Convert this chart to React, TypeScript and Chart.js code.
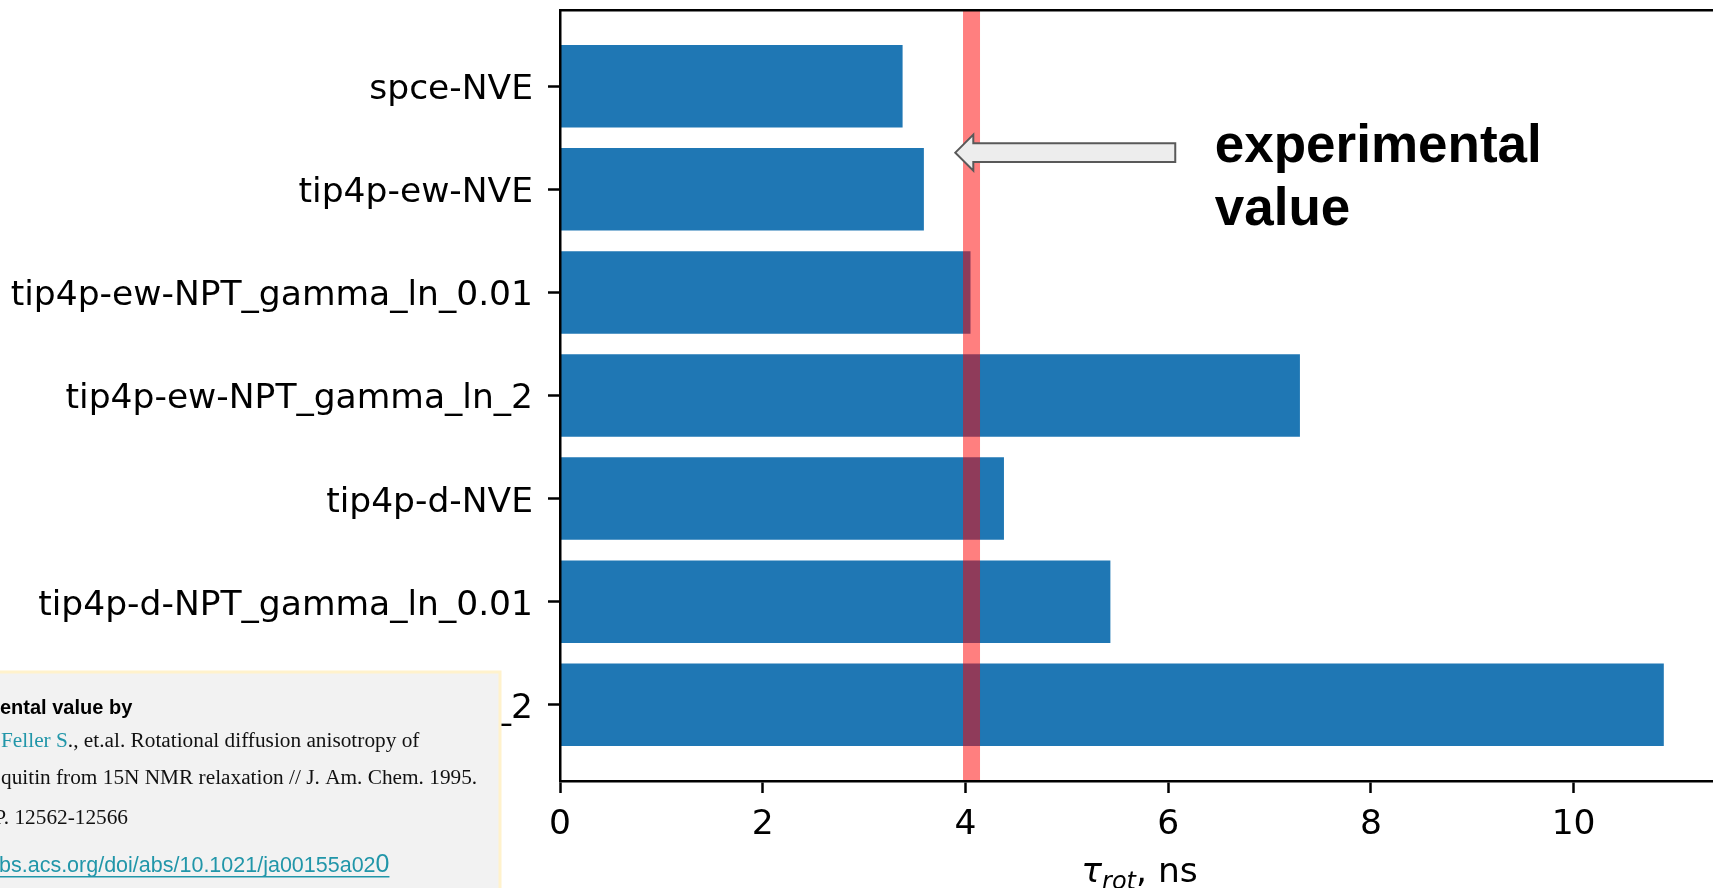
import React, { useEffect, useRef } from "react";
import { Chart, registerables } from "chart.js";

Chart.register(...registerables);

// Water models (one bar each) and their rotational correlation times, ns
const MODELS = [
  "spce-NVE",
  "tip4p-ew-NVE",
  "tip4p-ew-NPT_gamma_ln_0.01",
  "tip4p-ew-NPT_gamma_ln_2",
  "tip4p-d-NVE",
  "tip4p-d-NPT_gamma_ln_0.01",
  "tip4p-d-NPT_gamma_ln_2",
];
const TAU_ROT_NS = [3.38, 3.59, 4.05, 7.3, 4.38, 5.43, 10.89];

// Experimental rotational correlation time, ns
const EXPERIMENTAL_NS = 4.06;

const X_TICKS = [0, 2, 4, 6, 8, 10];

// Axis limits: 5% headroom after the longest bar, half a bar plus margin on y
const X_MAX = Math.max(...TAU_ROT_NS) * 1.05;
const Y_MIN = -0.74;
const Y_MAX = MODELS.length - 1 + 0.74;

// Citation block shown in the lower-left corner
const REF_HEADING = "ental value by";
const REF_AUTHOR = "Feller S";
const REF_LINE_2 = "., et.al. Rotational diffusion anisotropy of";
const REF_LINE_3 = "quitin from 15N NMR relaxation // J. Am. Chem. 1995.";
const REF_LINE_4 = "P. 12562-12566";
const REF_LINK = "bs.acs.org/doi/abs/10.1021/ja00155a02";
const REF_LINK_END = "0";

const ANNOTATION_LINES = ["experimental", "value"];

const TICK_FONT = { family: "'DejaVu Sans'", size: 34.5 };
const TEAL = "#2196a9";

const overlayPlugin = {
  id: "overlay",
  afterDraw(chart: any) {
    const { ctx, chartArea, scales } = chart;
    const xs = scales.x;
    const ys = scales.y;
    ctx.save();

    // x-axis title: tau_rot, ns
    const fTau = "italic 34.5px 'DejaVu Sans'";
    const fSub = "italic 24px 'DejaVu Sans'";
    const fRest = "34.5px 'DejaVu Sans'";
    ctx.font = fTau;
    const wTau = ctx.measureText("τ").width;
    ctx.font = fSub;
    const wSub = ctx.measureText("rot").width;
    ctx.font = fRest;
    const wRest = ctx.measureText(", ns").width;
    const cx = (chartArea.left + chartArea.right) / 2;
    let lx = cx - (wTau + wSub + wRest) / 2;
    const base = 882;
    ctx.fillStyle = "#000";
    ctx.textBaseline = "alphabetic";
    ctx.textAlign = "left";
    ctx.font = fTau;
    ctx.fillText("τ", lx, base);
    lx += wTau;
    ctx.font = fSub;
    ctx.fillText("rot", lx, base + 7);
    lx += wSub;
    ctx.font = fRest;
    ctx.fillText(", ns", lx, base);

    // block arrow pointing at the experimental line
    const tipX = xs.getPixelForValue(3.9);
    const tailX = xs.getPixelForValue(6.07);
    const ay = ys.getPixelForValue(0.644);
    const headLen = 18;
    const headHalf = 18;
    const shaftHalf = 9.3;
    ctx.beginPath();
    ctx.moveTo(tipX, ay);
    ctx.lineTo(tipX + headLen, ay - headHalf);
    ctx.lineTo(tipX + headLen, ay - shaftHalf);
    ctx.lineTo(tailX, ay - shaftHalf);
    ctx.lineTo(tailX, ay + shaftHalf);
    ctx.lineTo(tipX + headLen, ay + shaftHalf);
    ctx.lineTo(tipX + headLen, ay + headHalf);
    ctx.closePath();
    ctx.fillStyle = "#ededed";
    ctx.fill();
    ctx.lineWidth = 2;
    ctx.strokeStyle = "#595959";
    ctx.lineJoin = "miter";
    ctx.stroke();

    // annotation text
    ctx.font = "bold 53px 'Liberation Sans', Arial, sans-serif";
    ctx.fillStyle = "#000";
    const tx = xs.getPixelForValue(6.46);
    const ty = ys.getPixelForValue(0.732);
    ANNOTATION_LINES.forEach((line, i) => ctx.fillText(line, tx, ty + i * 63));

    // citation box
    const boxRight = 500;
    const boxTop = 672;
    ctx.fillStyle = "#f2f2f2";
    ctx.fillRect(-10, boxTop, boxRight + 10, 888 - boxTop + 10);
    ctx.strokeStyle = "#fff2cc";
    ctx.lineWidth = 3;
    ctx.beginPath();
    ctx.moveTo(-10, boxTop);
    ctx.lineTo(boxRight, boxTop);
    ctx.lineTo(boxRight, 900);
    ctx.stroke();

    ctx.fillStyle = "#000";
    ctx.font = "bold 20px 'Liberation Sans', Arial, sans-serif";
    ctx.fillText(REF_HEADING, 0, 714);

    ctx.font = "21.3px 'Liberation Serif', 'Times New Roman', serif";
    ctx.fillStyle = TEAL;
    ctx.fillText(REF_AUTHOR, 1, 747);
    const wAuthor = ctx.measureText(REF_AUTHOR).width;
    ctx.fillStyle = "#111";
    ctx.fillText(REF_LINE_2, 1 + wAuthor, 747);
    ctx.fillText(REF_LINE_3, 1, 784);
    ctx.fillText(REF_LINE_4, -5.7, 824);

    ctx.fillStyle = TEAL;
    ctx.font = "21.5px 'Liberation Sans', Arial, sans-serif";
    ctx.fillText(REF_LINK, -1, 872);
    const wLink = ctx.measureText(REF_LINK).width;
    ctx.font = "25px 'Liberation Sans', Arial, sans-serif";
    ctx.fillText(REF_LINK_END, -1 + wLink, 872);
    const wEnd = ctx.measureText(REF_LINK_END).width;
    ctx.fillRect(0, 876, wLink + wEnd - 1, 1.5);

    ctx.restore();
  },
};

// Pin an axis' thickness and drop the edge padding Chart.js reserves for labels
const fixAxis = (size: number) => (s: any) => {
  if (s.isHorizontal()) s.height = size;
  else s.width = size;
  s.paddingTop = 0;
  s.paddingBottom = 0;
  s.paddingLeft = 0;
  s.paddingRight = 0;
};

export default function App() {
  const canvasRef = useRef<HTMLCanvasElement | null>(null);

  useEffect(() => {
    const canvas = canvasRef.current;
    if (!canvas) return;

    const axisBorder = { display: true, color: "#000", width: 2.5, z: 1 };
    const tickGrid = {
      offset: false,
      drawOnChartArea: false,
      drawTicks: true,
      tickLength: 12,
      tickWidth: 2.5,
      tickColor: "#000",
    };

    const chart = new Chart(canvas, {
      type: "bar",
      data: {
        datasets: [
          {
            type: "line",
            label: "experimental",
            data: [
              { x: EXPERIMENTAL_NS, y: Y_MIN },
              { x: EXPERIMENTAL_NS, y: Y_MAX },
            ],
            indexAxis: "y",
            xAxisID: "x",
            yAxisID: "y",
            borderColor: "rgba(255, 0, 0, 0.5)",
            borderWidth: 17,
            borderCapStyle: "butt",
            pointRadius: 0,
            order: 0,
          } as any,
          {
            type: "bar",
            label: "tau_rot",
            data: MODELS.map((_, i) => ({ x: TAU_ROT_NS[i], y: i })),
            xAxisID: "x",
            yAxisID: "y",
            backgroundColor: "#1f77b4",
            borderWidth: 0,
            barPercentage: 0.8,
            categoryPercentage: 1,
            order: 1,
          } as any,
        ],
      },
      options: {
        indexAxis: "y",
        responsive: false,
        devicePixelRatio: 1,
        animation: false,
        layout: { padding: 0 },
        plugins: {
          legend: { display: false },
          tooltip: { enabled: false },
          title: { display: false },
        },
        scales: {
          x: {
            type: "linear",
            position: "bottom",
            offset: false,
            min: 0,
            max: X_MAX,
            afterBuildTicks: (s: any) => {
              s.ticks = X_TICKS.map((v) => ({ value: v }));
            },
            ticks: {
              font: TICK_FONT,
              color: "#000",
              padding: 11,
              maxRotation: 0,
              autoSkip: false,
            },
            grid: tickGrid,
            border: axisBorder,
            afterFit: fixAxis(107),
          },
          xTop: {
            type: "linear",
            position: "top",
            offset: false,
            min: 0,
            max: X_MAX,
            ticks: { display: false },
            grid: { offset: false, drawOnChartArea: false, drawTicks: false },
            border: axisBorder,
            afterFit: fixAxis(10),
          },
          y: {
            type: "linear",
            position: "left",
            reverse: true,
            offset: false,
            min: Y_MIN,
            max: Y_MAX,
            afterBuildTicks: (s: any) => {
              s.ticks = MODELS.map((_, i) => ({ value: i }));
            },
            ticks: {
              font: TICK_FONT,
              color: "#000",
              padding: 15,
              labelOffset: 4,
              autoSkip: false,
              callback: (v: any) => MODELS[v as number] ?? "",
            },
            grid: tickGrid,
            border: axisBorder,
            afterFit: fixAxis(560),
          },
        },
      } as any,
      plugins: [overlayPlugin],
    });

    return () => chart.destroy();
  }, []);

  return (
    <div
      style={{
        position: "absolute",
        left: 0,
        top: 0,
        width: 1713,
        height: 888,
        overflow: "hidden",
        background: "#fff",
      }}
    >
      <canvas
        ref={canvasRef}
        width={1719}
        height={888}
        style={{ display: "block", width: 1719, height: 888 }}
      />
    </div>
  );
}
